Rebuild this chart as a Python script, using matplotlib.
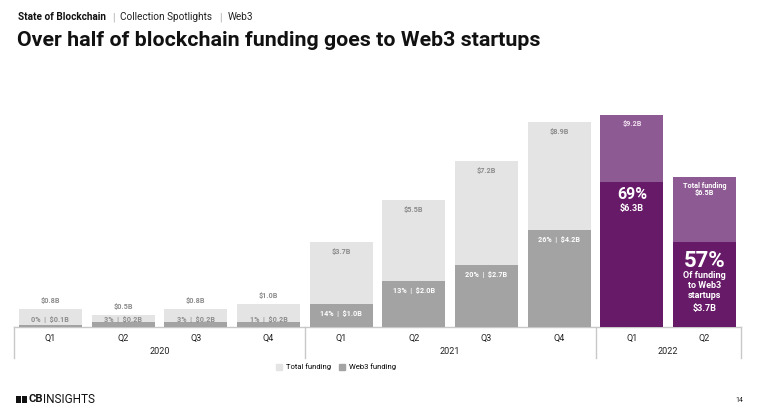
import matplotlib
matplotlib.use("Agg")
import matplotlib.pyplot as plt
from matplotlib.patches import Rectangle, Patch

plt.rcParams['font.family'] = ['Roboto', 'DejaVu Sans']

# ---- data ----
quarters = ['Q1', 'Q2', 'Q3', 'Q4', 'Q1', 'Q2', 'Q3', 'Q4', 'Q1', 'Q2']
years = ['2020', '2021', '2022']
year_centers = [1.5, 5.5, 8.5]
year_bounds = [-0.5, 3.5, 7.5, 9.5]
total_funding = [0.8, 0.5, 0.8, 1.0, 3.7, 5.5, 7.2, 8.9, 9.2, 6.5]
web3_funding = [0.1, 0.2, 0.2, 0.2, 1.0, 2.0, 2.7, 4.2, 6.3, 3.7]
web3_share = [0, 3, 3, 1, 14, 13, 20, 26, 69, 57]

LIGHT_GRAY = '#e4e4e4'
DARK_GRAY = '#a3a3a3'
LIGHT_PURPLE = '#8e5a93'
DARK_PURPLE = '#671a67'
LABEL_GRAY = '#8c8c8c'

fig = plt.figure(figsize=(7.68, 4.2), dpi=100)
W, H = 768, 420
ax = fig.add_axes([14 / W, (H - 327) / H, 727 / W, 217 / H])
ax.set_xlim(-0.5, 9.5)
ymax = 217 / 23.04
ax.set_ylim(0, ymax)
px = ymax / 217  # data units per pixel

x = list(range(len(quarters)))
light_cols = [LIGHT_GRAY] * 8 + [LIGHT_PURPLE] * 2
dark_cols = [DARK_GRAY] * 8 + [DARK_PURPLE] * 2
bw = 0.866
ax.bar(x, total_funding, width=bw, color=light_cols, zorder=2)
ax.bar(x, web3_funding, width=bw, color=dark_cols, zorder=3)

for sp in ['top', 'right', 'left']:
    ax.spines[sp].set_visible(False)
ax.spines['bottom'].set_color('#c8c8c8')
ax.spines['bottom'].set_linewidth(1)
ax.set_xticks([])
ax.set_yticks([])

for b in year_bounds:
    ax.plot([b, b], [0, -31 * px], color='#c8c8c8', lw=1, clip_on=False)

for i, q in enumerate(quarters):
    ax.text(i, -11 * px, q, ha='center', va='center', fontsize=6.5, color='#222222')
for yc, yl in zip(year_centers, years):
    ax.text(yc, -25 * px, yl, ha='center', va='center', fontsize=6.5, color='#222222')

lab_fs = 5.2
for i in range(8):
    t = total_funding[i]
    w = web3_funding[i]
    if t < 2:
        ax.text(i, t + 8 * px, f'${t:.1f}B', ha='center', va='center', fontsize=lab_fs,
                color=LABEL_GRAY, fontweight='bold', zorder=5)
        ax.text(i, 7 * px, f'{web3_share[i]}%  |  ${w:.1f}B', ha='center', va='center',
                fontsize=lab_fs, color=LABEL_GRAY, fontweight='bold', zorder=5)
    else:
        ax.text(i, t - 10 * px, f'${t:.1f}B', ha='center', va='center', fontsize=lab_fs,
                color=LABEL_GRAY, fontweight='bold', zorder=5)
        ax.text(i, w - 10 * px, f'{web3_share[i]}%  |  ${w:.1f}B', ha='center', va='center',
                fontsize=lab_fs, color='white', fontweight='bold', zorder=5)

i = 8
ax.text(i, total_funding[i] - 9 * px, f'${total_funding[i]:.1f}B', ha='center', va='center',
        fontsize=lab_fs, color='#f0e0f0', fontweight='bold', zorder=5)
ax.text(i, web3_funding[i] - 13 * px, f'{web3_share[i]}%', ha='center', va='center',
        fontsize=11.5, color='white', fontweight='bold', zorder=5)
ax.text(i, web3_funding[i] - 27 * px, f'${web3_funding[i]:.1f}B', ha='center', va='center',
        fontsize=6.5, color='white', fontweight='bold', zorder=5)
i = 9
ax.text(i, total_funding[i] - 9 * px, 'Total funding', ha='center', va='center',
        fontsize=lab_fs, color='white', fontweight='bold', zorder=5)
ax.text(i, total_funding[i] - 16 * px, f'${total_funding[i]:.1f}B', ha='center', va='center',
        fontsize=lab_fs, color='white', fontweight='bold', zorder=5)
ax.text(i, web3_funding[i] - 19 * px, f'{web3_share[i]}%', ha='center', va='center',
        fontsize=16, color='white', fontweight='bold', zorder=5)
for k, s in enumerate(['Of funding', 'to Web3', 'startups']):
    ax.text(i, web3_funding[i] - (34 + 10 * k) * px, s, ha='center', va='center',
            fontsize=6.5, color='white', fontweight='bold', zorder=5)
ax.text(i, web3_funding[i] - 67 * px, f'${web3_funding[i]:.1f}B', ha='center', va='center',
        fontsize=6.5, color='white', fontweight='bold', zorder=5)

handles = [Patch(color=LIGHT_GRAY, label='Total funding'),
           Patch(color=DARK_GRAY, label='Web3 funding')]
fig.legend(handles=handles, loc='center', bbox_to_anchor=(336 / W, (H - 367) / H), ncol=2,
           frameon=False, fontsize=5.5, handlelength=0.8, handleheight=0.8,
           handletextpad=0.5, columnspacing=1.0)


def fy(ypx):
    return (H - ypx) / H


renderer = fig.canvas.get_renderer()
parts = [('State of Blockchain', 'bold', '#111111', 6),
         ('|', 'normal', '#aaaaaa', 6),
         ('Collection Spotlights', 'normal', '#222222', 7),
         ('|', 'normal', '#aaaaaa', 6),
         ('Web3', 'normal', '#222222', 0)]
xpos = 18
for txt, wt, col, gap in parts:
    t = fig.text(xpos / W, fy(17), txt, fontsize=7.2, fontweight=wt, va='center', ha='left',
                 color=col)
    bb = t.get_window_extent(renderer)
    xpos = xpos + bb.width + gap

fig.text(17 / W, fy(40), 'Over half of blockchain funding goes to Web3 startups', fontsize=15.4,
         fontweight='bold', va='center', ha='left', color='#111111')

fig.patches.append(Rectangle((16 / W, fy(403)), 11 / W, 7 / H, transform=fig.transFigure,
                             facecolor='#111111', edgecolor='none'))
fig.patches.append(Rectangle((20.5 / W, fy(403)), 1 / W, 7 / H, transform=fig.transFigure,
                             facecolor='white', edgecolor='none'))
fig.text(28.5 / W, fy(399.5), 'CB', fontsize=8, fontweight='bold', va='center', ha='left',
         color='#111111')
fig.text(43 / W, fy(399.5), 'INSIGHTS', fontsize=8.5, va='center', ha='left', color='#111111')
fig.text(739 / W, fy(401), '14', fontsize=5, va='center', ha='center', color='#222222')

fig.savefig('out.png', dpi=100)
